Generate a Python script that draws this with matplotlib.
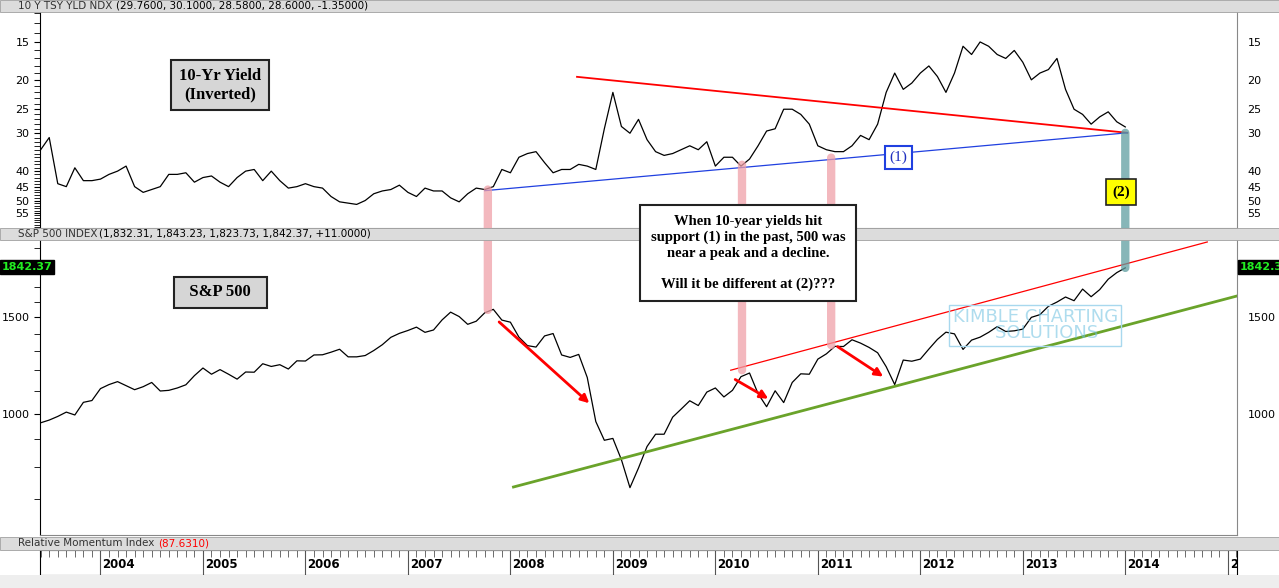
import numpy as np
import matplotlib
matplotlib.use("Agg")
import matplotlib.pyplot as plt
from matplotlib.patches import Rectangle, ConnectionPatch
from matplotlib.ticker import FixedLocator, NullFormatter

# monthly closes, May 2003 .. Dec 2013
yield_10y = [34, 31, 44, 45, 39, 43, 43, 42.5,
             41, 40, 38.5, 45, 47, 46, 45, 41, 41, 40.5, 43.5, 42,
             41.5, 43.5, 45, 42, 40, 39.5, 43, 40, 43, 45.5, 45, 44,
             45, 45.5, 48.5, 50.5, 51, 51.5, 50, 47.5, 46.5, 46, 44.5, 47,
             48.5, 45.5, 46.5, 46.5, 49, 50.5, 47.5, 45.5, 46, 45, 39.5, 40.5,
             36, 35, 34.5, 37.5, 40.5, 39.5, 39.5, 38, 38.5, 39.5, 29, 22,
             28.5, 30, 27, 31.5, 34.5, 35.5, 35, 34, 33, 34, 32, 38.5,
             36, 36, 38.5, 36.5, 33, 29.5, 29, 25, 25, 26, 28, 33,
             34, 34.5, 34.5, 33, 30.5, 31.5, 28, 22, 19, 21.5, 20.5, 19,
             18, 19.5, 22, 19, 15.5, 16.5, 15, 15.5, 16.5, 17, 16, 17.5,
             20, 19, 18.5, 17, 21.5, 25, 26, 28, 26.5, 25.5, 27.5, 28.6]
spx = [964, 975, 990, 1008, 996, 1050, 1058, 1112,
       1131, 1145, 1126, 1107, 1121, 1141, 1101, 1104, 1115, 1130, 1174, 1212,
       1181, 1204, 1181, 1157, 1192, 1191, 1234, 1220, 1229, 1207, 1249, 1248,
       1280, 1281, 1295, 1311, 1270, 1270, 1277, 1304, 1336, 1378, 1401, 1418,
       1438, 1407, 1421, 1482, 1531, 1503, 1455, 1474, 1527, 1549, 1481, 1468,
       1379, 1331, 1323, 1386, 1400, 1280, 1267, 1283, 1165, 969, 896, 903,
       826, 735, 798, 873, 919, 919, 987, 1021, 1057, 1036, 1096, 1115,
       1074, 1104, 1169, 1187, 1089, 1031, 1102, 1049, 1141, 1183, 1181, 1258,
       1286, 1327, 1326, 1364, 1345, 1321, 1292, 1219, 1131, 1253, 1247, 1258,
       1312, 1366, 1408, 1398, 1310, 1362, 1379, 1407, 1441, 1412, 1416, 1426,
       1498, 1515, 1569, 1597, 1631, 1606, 1686, 1633, 1682, 1757, 1806, 1842.37]
dates = [2003 + m / 12 for m in range(5, 13)] + \
        [y + m / 12 for y in range(2004, 2014) for m in range(1, 13)]
years = list(range(2004, 2016))
year_labels = [str(y) for y in range(2004, 2015)] + ["20"]
yield_ticks = [15, 20, 25, 30, 40, 45, 50, 55]
spx_ticks = [1000, 1500]

W, H = 1279, 588
fig = plt.figure(figsize=(W / 100, H / 100), dpi=100)
fig.patch.set_facecolor("white")
X0, X1 = 2003.41, 2015.09

def fy(p):  # pixel row -> figure fraction
    return 1 - p / H

def panel(top, bot):
    return fig.add_axes([40 / W, fy(bot), 1197 / W, (bot - top) / H])

def header(top, bot, txt, vals, vcol="black"):
    fig.patches.append(Rectangle((0, fy(bot)), 1, (bot - top) / H, transform=fig.transFigure,
                                 facecolor="#dcdcdc", edgecolor="#a0a0a0", lw=0.6))
    fig.text(18 / W, fy((top + bot) / 2), txt, fontsize=7.5, color="#333333",
             va="center", family="DejaVu Sans", zorder=5)
    fig.text((18 + 5.9 * len(txt) + 4) / W, fy((top + bot) / 2), vals, fontsize=7.5,
             color=vcol, va="center", family="DejaVu Sans", zorder=5)

def style(ax, ticks, ymin, ymax, inverted=False):
    ax.set_xlim(X0, X1)
    ax.set_yscale("log")
    ax.set_ylim((ymax, ymin) if inverted else (ymin, ymax))
    ax.yaxis.set_major_locator(FixedLocator(ticks))
    ax.yaxis.set_minor_formatter(NullFormatter())
    ax.set_yticklabels([str(t) for t in ticks])
    ax.tick_params(axis="y", which="both", left=True, right=False, labelleft=True,
                   labelright=True, labelsize=8, direction="out", length=4)
    ax.tick_params(axis="x", bottom=False, labelbottom=False)
    ax.spines["top"].set_visible(False)
    ax.spines["bottom"].set_color("#888888")
    ax.spines["right"].set_color("#888888")
    ax.set_facecolor("white")

# yield panel
ax1 = panel(12, 228)
ax1.plot(dates, yield_10y, color="black", lw=0.9)
style(ax1, yield_ticks, 11.95, 61.6, inverted=True)
ax1.yaxis.set_minor_locator(FixedLocator(list(range(12, 62))))
ax1.plot([2008.65, 2014.02], [19.55, 29.9], color="red", lw=1.3)
ax1.plot([2007.75, 2014.02], [46.4, 29.9], color="#2040e0", lw=0.9)
ax1.text(2011.79, 36.1, "(1)", fontsize=11, color="#2030c0", ha="center", va="center",
         family="Liberation Serif",
         bbox=dict(boxstyle="square,pad=0.3", fc="white", ec="#2040e0", lw=1.5))

# S&P panel
ax2 = panel(240, 535)
ax2.plot(dates, spx, color="black", lw=0.9)
style(ax2, spx_ticks, 603, 2070)
ax2.yaxis.set_minor_locator(FixedLocator(list(range(700, 2100, 100))))
ax2.plot([2008.03, 2015.09], [737, 1638], color="#6aa32a", lw=2)
ax2.plot([2010.15, 2014.8], [1201, 2053], color="red", lw=0.9)
arrows = [((2007.87, 1481), (2008.79, 1038)),
          ((2010.17, 1162), (2010.54, 1060)),
          ((2011.17, 1334), (2011.66, 1162))]
for a, b in arrows:
    ax2.annotate("", xy=b, xytext=a,
                 arrowprops=dict(arrowstyle="-|>", color="red", lw=2, mutation_scale=12))
ax2.text(2013.12, 1450, "KIMBLE CHARTING\n    SOLUTIONS", fontsize=13, color="#6cc0e0",
         alpha=0.55, ha="center", va="center", linespacing=0.85,
         bbox=dict(boxstyle="square,pad=0.2", fc="none", ec="#a8d8ee"))

# connectors across the panels
links = [(2007.78, 46, 1545, "#f0a0a8"), (2010.26, 38.1, 1201, "#f0a0a8"),
         (2011.13, 36.1, 1334, "#f0a0a8"), (2014.0, 29.9, 1842, "#5f9ea0")]
for x, yv, sv, c in links:
    cp = ConnectionPatch((x, yv), (x, sv), "data", "data", axesA=ax1, axesB=ax2,
                         color=c, lw=6, alpha=0.75)
    fig.add_artist(cp)

# price tags
for xp in (2 / W, 1240 / W):
    fig.text(xp, fy(267), "1842.37", fontsize=8, color="#22ee22", weight="bold",
             va="center", bbox=dict(boxstyle="square,pad=0.15", fc="black", ec="black"))

# date strip
ax3 = fig.add_axes([40 / W, fy(575), 1197 / W, 25 / H])
ax3.set_yticks([])
ax3.xaxis.tick_top()
ax3.set_xticks(years)
ax3.set_xticklabels([])
ax3.set_xticks([y + m / 12 for y in range(2003, 2016) for m in range(1, 12)], minor=True)
ax3.set_xlim(X0, X1)
ax3.tick_params(axis="x", which="major", direction="in", length=25, color="#555555")
ax3.tick_params(axis="x", which="minor", direction="in", length=5, color="#555555")
for y, lab in zip(years, year_labels):
    ax3.text(y + 0.02, 0.4, lab, fontsize=8.5, weight="bold", va="center",
             family="Liberation Sans Narrow", clip_on=True)

header(0, 12, "10 Y TSY YLD NDX", "(29.7600, 30.1000, 28.5800, 28.6000, -1.35000)")
header(228, 240, "S&P 500 INDEX", "(1,832.31, 1,843.23, 1,823.73, 1,842.37, +11.0000)")
header(537, 550, "Relative Momentum Index", "(87.6310)", vcol="red")
fig.patches.append(Rectangle((0, 0), 1, fy(575), transform=fig.transFigure,
                             facecolor="#eeeeee", edgecolor="none"))

# callout boxes
box = dict(boxstyle="square,pad=0.45", fc="#d6d6d6", ec="#222222", lw=1.5)
fig.text(220 / W, fy(85), "10-Yr Yield\n(Inverted)", fontsize=12, weight="bold",
         family="Liberation Serif", ha="center", va="center", bbox=box)
fig.text(220 / W, fy(292), "  S&P 500  ", fontsize=12, weight="bold",
         family="Liberation Serif", ha="center", va="center", bbox=box)
fig.text(748 / W, fy(253),
         "When 10-year yields hit\nsupport (1) in the past, 500 was\nnear a peak and a decline.\n\nWill it be different at (2)???",
         fontsize=10.5, weight="bold", family="Liberation Serif", ha="center", va="center",
         linespacing=1.25,
         bbox=dict(boxstyle="square,pad=0.7", fc="white", ec="#222222", lw=1.5))
fig.text(1121 / W, fy(192), "(2)", fontsize=11, weight="bold", family="Liberation Serif",
         ha="center", va="center",
         bbox=dict(boxstyle="square,pad=0.4", fc="#ffff00", ec="#222222", lw=1.2))

fig.savefig("out.png", dpi=100)
